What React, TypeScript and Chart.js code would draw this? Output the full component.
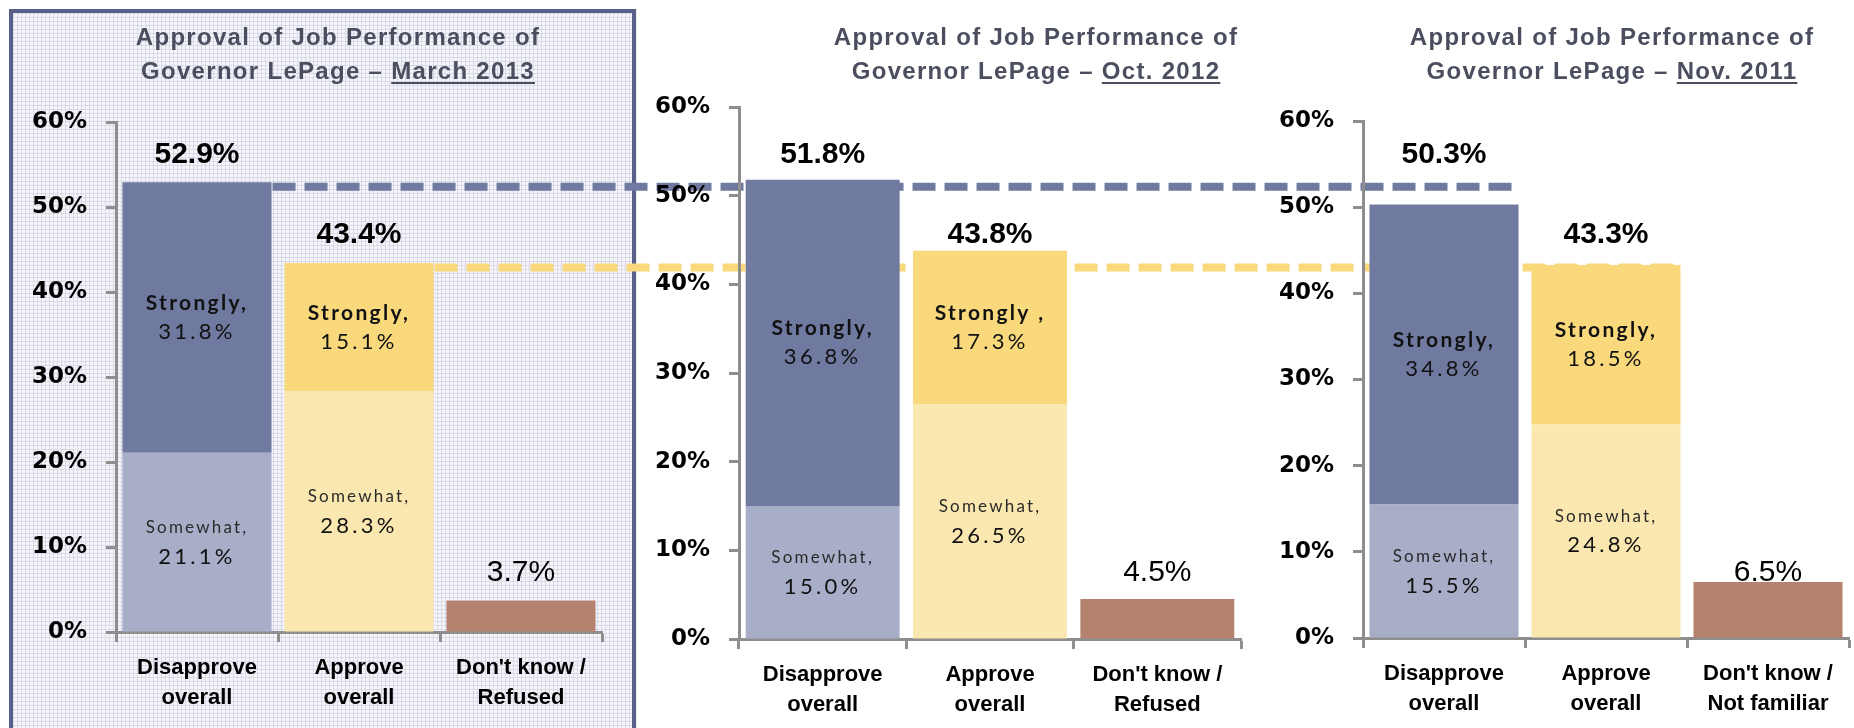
import React, { useEffect, useRef } from 'react';
import { Chart, registerables } from 'chart.js';

Chart.register(...registerables);

// ---------- data ----------
const categoriesRefused = [['Disapprove', 'overall'], ['Approve', 'overall'], ["Don't know /", 'Refused']];
const categoriesNotFamiliar = [['Disapprove', 'overall'], ['Approve', 'overall'], ["Don't know /", 'Not familiar']];

const somewhatMar2013 = [21.1, 28.3, null];
const stronglyMar2013 = [31.8, 15.1, null];
const unsureMar2013 = [null, null, 3.7];

const somewhatOct2012 = [15.0, 26.5, null];
const stronglyOct2012 = [36.8, 17.3, null];
const unsureOct2012 = [null, null, 4.5];

const somewhatNov2011 = [15.5, 24.8, null];
const stronglyNov2011 = [34.8, 18.5, null];
const unsureNov2011 = [null, null, 6.5];

const strongNamesMar2013 = ['Strongly,', 'Strongly,'];
const strongNamesOct2012 = ['Strongly,', 'Strongly ,'];
const strongNamesNov2011 = ['Strongly,', 'Strongly,'];
const somewhatNames = ['Somewhat,', 'Somewhat,'];

const titleLine1 = 'Approval of Job Performance of';
const titleLead = 'Governor LePage – ';
const periodMar2013 = 'March 2013';
const periodOct2012 = 'Oct. 2012';
const periodNov2011 = 'Nov. 2011';

const yTickLabels = ['0%', '10%', '20%', '30%', '40%', '50%', '60%'];

// ---------- styles ----------
const COL_STRONG_DIS = '#707aa0';
const COL_SOME_DIS = '#a9aec8';
const COL_STRONG_APP = '#f9d97c';
const COL_SOME_APP = '#fbe8b0';
const COL_UNSURE = '#b5826f';
const COL_AXIS = '#8e8e8e';
const COL_BOX = '#596089';
const COL_TITLE = '#4b4e5f';

type Panel = {
  left: number; top: number; width: number; height: number;
  area: { left: number; right: number; top: number; bottom: number };
  box: boolean;
  categories: string[][];
  somewhat: (number | null)[];
  strongly: (number | null)[];
  unsure: (number | null)[];
  strongNames: string[];
  period: string;
  titleCenter: number;
};

const panels: Panel[] = [
  {
    left: 9, top: 9, width: 628, height: 719,
    area: { left: 107, right: 593, top: 113, bottom: 623 },
    box: true, categories: categoriesRefused,
    somewhat: somewhatMar2013, strongly: stronglyMar2013, unsure: unsureMar2013,
    strongNames: strongNamesMar2013, period: periodMar2013, titleCenter: 338,
  },
  {
    left: 560, top: 0, width: 700, height: 728,
    area: { left: 179, right: 681, top: 107, bottom: 639 },
    box: false, categories: categoriesRefused,
    somewhat: somewhatOct2012, strongly: stronglyOct2012, unsure: unsureOct2012,
    strongNames: strongNamesOct2012, period: periodOct2012, titleCenter: 1036,
  },
  {
    left: 1270, top: 0, width: 584, height: 728,
    area: { left: 93, right: 579, top: 121, bottom: 638 },
    box: false, categories: categoriesNotFamiliar,
    somewhat: somewhatNov2011, strongly: stronglyNov2011, unsure: unsureNov2011,
    strongNames: strongNamesNov2011, period: periodNov2011, titleCenter: 1612,
  },
];

function totalAt(p: Panel, i: number): number {
  return (p.somewhat[i] ?? 0) + (p.strongly[i] ?? 0) + (p.unsure[i] ?? 0);
}

function drawBox(chart: any) {
  const ctx = chart.ctx as CanvasRenderingContext2D;
  const w = chart.width, h = chart.height;
  const tile = document.createElement('canvas');
  tile.width = 4; tile.height = 4;
  const t = tile.getContext('2d')!;
  t.fillStyle = '#f6f6fa';
  t.fillRect(0, 0, 4, 4);
  t.fillStyle = '#d8dae8';
  t.fillRect(0, 0, 4, 1);
  t.fillRect(0, 0, 1, 4);
  ctx.save();
  ctx.fillStyle = ctx.createPattern(tile, 'repeat')!;
  ctx.fillRect(0, 0, w, h);
  ctx.fillStyle = COL_BOX;
  ctx.fillRect(0, 0, w - 1, 4);
  ctx.fillRect(0, 0, 4, h);
  ctx.fillRect(w - 5, 0, 4, h);
  ctx.restore();
}

export default function App() {
  const c1 = useRef<HTMLCanvasElement>(null);
  const c2 = useRef<HTMLCanvasElement>(null);
  const c3 = useRef<HTMLCanvasElement>(null);
  const overlay = useRef<HTMLCanvasElement>(null);

  useEffect(() => {
    const canvases = [c1.current!, c2.current!, c3.current!];
    const holder: { first: any } = { first: null };

    // page y of the total-label row for category i, aligned across panels on panel 1
    const rowY = (i: number, self: any, idx: number) => {
      const ref = idx === 0 ? self : holder.first;
      const p0 = panels[0];
      return p0.top + ref.scales.y.getPixelForValue(totalAt(p0, i)) - 28;
    };

    const charts: any[] = [];
    panels.forEach((p, idx) => {
      const labelPlugin = {
        id: 'panelLabels' + idx,
        beforeDraw(chart: any) {
          if (p.box) drawBox(chart);
        },
        afterDatasetsDraw(chart: any) {
          const ctx = chart.ctx as CanvasRenderingContext2D;
          ctx.save();
          ctx.textAlign = 'center';
          ctx.textBaseline = 'middle';
          // segment labels
          [0, 1].forEach((ds) => {
            const meta = chart.getDatasetMeta(ds);
            const values = chart.data.datasets[ds].data;
            meta.data.forEach((el: any, i: number) => {
              const v = values[i];
              if (v == null) return;
              const cx = el.x;
              const cy = (el.y + el.base) / 2;
              const name = ds === 0 ? somewhatNames[i] : p.strongNames[i];
              if (ds === 0) {
                ctx.fillStyle = '#2a2a2a';
                ctx.font = '17px Lato';
                (ctx as any).letterSpacing = '2.2px';
              } else {
                ctx.fillStyle = '#111';
                ctx.font = 'bold 21px Lato';
                (ctx as any).letterSpacing = '2.3px';
              }
              ctx.fillText(name, cx, cy - 14.5);
              ctx.fillStyle = '#111';
              ctx.font = '22px Lato';
              (ctx as any).letterSpacing = '3.3px';
              ctx.fillText(v.toFixed(1) + '%', cx, cy + 14.5);
            });
          });
          // totals
          (ctx as any).letterSpacing = '0px';
          ctx.fillStyle = '#000';
          for (let i = 0; i < 3; i++) {
            const ds = p.unsure[i] != null ? 2 : 1;
            const el = chart.getDatasetMeta(ds).data[i];
            if (!el) continue;
            const yy = rowY(i, chart, idx) - p.top;
            ctx.font = ds === 2 ? '30px "Liberation Sans"' : 'bold 30px "Liberation Sans"';
            ctx.fillText(totalAt(p, i).toFixed(1) + '%', el.x, yy);
          }
          ctx.restore();
        },
      };

      const chart = new Chart(canvases[idx], {
        type: 'bar',
        data: {
          labels: p.categories as any,
          datasets: [
            { label: 'Somewhat', data: p.somewhat as any, backgroundColor: [COL_SOME_DIS, COL_SOME_APP, COL_UNSURE], barPercentage: 1, categoryPercentage: 0.92, borderWidth: 0 },
            { label: 'Strongly', data: p.strongly as any, backgroundColor: [COL_STRONG_DIS, COL_STRONG_APP, COL_UNSURE], barPercentage: 1, categoryPercentage: 0.92, borderWidth: 0 },
            { label: "Don't know", data: p.unsure as any, backgroundColor: COL_UNSURE, barPercentage: 1, categoryPercentage: 0.92, borderWidth: 0 },
          ],
        },
        options: {
          responsive: false,
          animation: false,
          devicePixelRatio: 1,
          layout: { padding: { top: p.area.top, right: p.width - p.area.right, left: 0, bottom: 0 } },
          plugins: { legend: { display: false }, tooltip: { enabled: false }, title: { display: false } },
          scales: {
            x: {
              stacked: true,
              grid: { display: true, drawOnChartArea: false, drawTicks: true, tickLength: 10, tickWidth: 3, tickColor: COL_AXIS, offset: true },
              border: { display: true, color: COL_AXIS, width: 3 },
              ticks: {
                color: '#000', padding: 11, maxRotation: 0, autoSkip: false,
                font: { family: '"Liberation Sans", Arial, sans-serif', weight: 'bold', size: 22, lineHeight: 1.36 },
              },
              afterFit: (s: any) => { s.height = p.height - p.area.bottom; },
            },
            y: {
              stacked: true, min: 0, max: 60,
              ticks: {
                stepSize: 10, color: '#000', padding: 19,
                callback: (v: any) => yTickLabels[Math.round(Number(v) / 10)],
                font: { family: '"DejaVu Sans", sans-serif', weight: 'bold', size: 23 },
              },
              grid: { drawOnChartArea: false, drawTicks: true, tickLength: 10, tickWidth: 3, tickColor: COL_AXIS },
              border: { display: true, color: COL_AXIS, width: 3 },
              afterFit: (s: any) => { s.width = p.area.left; },
            },
          },
        } as any,
        plugins: [labelPlugin],
      });
      if (idx === 0) holder.first = chart;
      charts.push(chart);
    });

    // dashed reference lines from the latest survey
    const ov = overlay.current!;
    const octx = ov.getContext('2d')!;
    octx.clearRect(0, 0, ov.width, ov.height);
    const p0 = panels[0], p2 = panels[2];
    const ch0 = charts[0], ch2 = charts[2];
    const lines = [
      { i: 0, color: COL_STRONG_DIS },
      { i: 1, color: COL_STRONG_APP },
    ];
    lines.forEach(({ i, color }) => {
      const bar0 = ch0.getDatasetMeta(1).data[i];
      const bar2 = ch2.getDatasetMeta(1).data[i];
      const y = p0.top + ch0.scales.y.getPixelForValue(totalAt(p0, i)) + 4.5;
      const x0 = p0.left + bar0.x + bar0.width / 2 + 1;
      const x1 = p2.left + bar2.x + bar2.width / 2;
      octx.save();
      octx.strokeStyle = color;
      octx.lineWidth = 8;
      octx.setLineDash([23, 9]);
      octx.beginPath();
      octx.moveTo(x0, y);
      octx.lineTo(x1, y);
      octx.stroke();
      octx.restore();
    });

    return () => { charts.forEach((c) => c.destroy()); };
  }, []);

  const refs = [c1, c2, c3];
  return (
    <div style={{ position: 'fixed', left: 0, top: 0, width: 1854, height: 728, overflow: 'hidden', background: '#fff' }}>
      {panels.map((p, idx) => (
        <canvas
          key={'c' + idx}
          ref={refs[idx]}
          width={p.width}
          height={p.height}
          style={{ position: 'absolute', left: p.left, top: p.top, width: p.width, height: p.height, zIndex: idx === 0 ? 1 : 3 }}
        />
      ))}
      <canvas ref={overlay} width={1854} height={728} style={{ position: 'absolute', left: 0, top: 0, width: 1854, height: 728, zIndex: 2, pointerEvents: 'none' }} />
      {panels.map((p, idx) => (
        <div
          key={'t' + idx}
          style={{
            position: 'absolute', left: p.titleCenter - 300, top: 20, width: 600, zIndex: 4,
            textAlign: 'center', fontFamily: '"Liberation Sans", Arial, sans-serif', fontWeight: 'bold',
            fontSize: 24, lineHeight: '34px', letterSpacing: '1.3px', color: COL_TITLE,
          }}
        >
          <div>{titleLine1}</div>
          <div>
            {titleLead}
            <span style={{ textDecoration: 'underline', textDecorationThickness: '2px', textUnderlineOffset: '3px' }}>{p.period}</span>
          </div>
        </div>
      ))}
    </div>
  );
}
